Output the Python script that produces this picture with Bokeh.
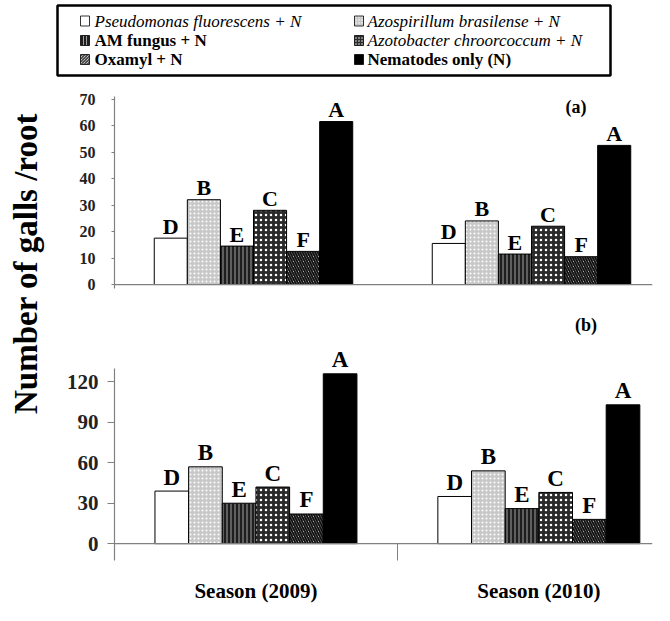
import numpy as np
from bokeh.plotting import figure
from bokeh.models import ColumnDataSource, Range1d, FixedTicker, Span
from bokeh.layouts import column, row
from bokeh.embed import file_html
from bokeh.resources import INLINE
from bokeh.core.properties import value

# ---------------- data ----------------
treatments = ["Pseudomonas fluorescens + N", "Azospirillum brasilense  + N", "AM fungus + N",
              "Azotobacter chroorcoccum + N", "Oxamyl + N", "Nematodes only (N)"]
legend_italic = [True, True, False, True, False, False]
letters = ["D", "B", "E", "C", "F", "A"]
seasons = ["Season (2009)", "Season (2010)"]
galls_a_2009 = [17.5, 32, 14.5, 28, 12.5, 61.5]
galls_a_2010 = [15.5, 24, 11.5, 22, 10.5, 52.5]
galls_b_2009 = [39, 57, 30, 42, 22, 126]
galls_b_2010 = [35, 54, 26, 38, 18, 103]
ticks_a = [0, 10, 20, 30, 40, 50, 60, 70]
ticks_b = [0, 30, 60, 90, 120]
y_title = "Number of galls /root"

# ---------------- styles ----------------
FONT_NAME = "Liberation Serif"
FONT = value(FONT_NAME)
fills = ["white", "#c8c8c8", "#1e1e1e", "#2a2a2a", "white", "black"]
hatches = [" ", "dot", "vertical_line", "dot", "left_diagonal_line", " "]
hcolors = ["black", "white", "#a0a0a0", "white", "#111111", "black"]
hscales = [4, 4, 4, 5, 5, 4]
hweights = [1, 1.5, 1, 2, 2, 1]
AXC = "#808080"
BAR_W = 0.119


def bar_source(v09, v10):
    xs, tops, labs = [], [], []
    fc, hp, hc, hs, hw = [], [], [], [], []
    for s, vals in enumerate([v09, v10]):
        n = len(vals)
        for i, v in enumerate(vals):
            xs.append(s + 0.5 + (i - (n - 1) / 2) * BAR_W)
            tops.append(v)
            labs.append(letters[i])
            fc.append(fills[i]); hp.append(hatches[i]); hc.append(hcolors[i])
            hs.append(hscales[i]); hw.append(hweights[i])
    return ColumnDataSource(dict(x=xs, top=tops, letter=labs, fill=fc, hatch=hp,
                                 hcolor=hc, hscale=hs, hweight=hw))


def style_common(p):
    p.toolbar_location = None
    p.outline_line_color = None
    p.grid.visible = False
    p.background_fill_color = "white"
    p.border_fill_color = "white"


def draw_bars(p, src, letter_size, letter_off):
    p.vbar(x="x", top="top", bottom=0, width=BAR_W, source=src,
           fill_color="fill", hatch_pattern="hatch", hatch_color="hcolor",
           hatch_scale="hscale", hatch_weight="hweight",
           line_color="black", line_width=1)
    p.text(x="x", y="top", text="letter", source=src, text_font=FONT,
           text_font_style="bold", text_font_size=letter_size,
           text_align="center", text_baseline="alphabetic", y_offset=letter_off,
           text_color="black")


# ---------------- legend figure ----------------
leg = figure(width=654, height=87, x_range=Range1d(0, 553), y_range=Range1d(0, 70),
             x_axis_location=None, y_axis_location=None, title=None,
             output_backend="svg", toolbar_location=None,
             min_border_left=57, min_border_right=44, min_border_top=5, min_border_bottom=12)
style_common(leg)
leg.outline_line_color = "black"
leg.outline_line_width = 2.5
col_sw = [27.5, 301.5]
col_tx = [37, 310]
row_y = [54.5, 35, 16]
n_t = len(treatments)
leg_all = dict(
    sx=[col_sw[i % 2] for i in range(n_t)],
    tx=[col_tx[i % 2] for i in range(n_t)],
    y=[row_y[i // 2] for i in range(n_t)],
    label=treatments, fill=fills, hatch=hatches,
    hcolor=hcolors, hscale=[3] * n_t, hweight=[1] * n_t)
lsrc = ColumnDataSource(leg_all)
leg.rect(x="sx", y="y", width=9, height=10, source=lsrc, fill_color="fill",
         hatch_pattern="hatch", hatch_color="hcolor", hatch_scale="hscale",
         hatch_weight="hweight", line_color="black", line_width=0.8)
for want_italic, fstyle in [(True, "italic"), (False, "bold")]:
    idx = [i for i in range(n_t) if legend_italic[i] == want_italic]
    sub = ColumnDataSource(dict(tx=[leg_all["tx"][i] for i in idx],
                                y=[leg_all["y"][i] for i in idx],
                                label=[treatments[i] for i in idx]))
    leg.text(x="tx", y="y", text="label", source=sub, text_font=FONT,
             text_font_style=fstyle, text_font_size="17px", text_baseline="middle",
             text_align="left", text_color="black")

# ---------------- y title figure ----------------
tf = figure(width=48, height=518, x_range=Range1d(0, 48), y_range=Range1d(0, 518),
            x_axis_location=None, y_axis_location=None, title=None,
            output_backend="svg", toolbar_location=None, min_border=0)
style_common(tf)
tf.text(x=[25], y=[518 - 176], text=[y_title], angle=np.pi / 2, text_font=FONT,
        text_font_style="bold", text_font_size="33px", text_align="center",
        text_baseline="middle", text_color="black")

# ---------------- panel (a) ----------------
pa = figure(width=606, height=205, x_range=Range1d(0, 538 / 278),
            y_range=Range1d(-1.5, -1.5 + 201 / 2.65),
            x_axis_location=None, title=None, output_backend="svg",
            toolbar_location=None, min_border_left=66, min_border_right=2,
            min_border_top=0, min_border_bottom=4)
style_common(pa)
pa.yaxis.ticker = FixedTicker(ticks=ticks_a)
pa.yaxis.bounds = (-1.5, 71)
pa.add_layout(Span(location=0, dimension="width", line_color=AXC, line_width=1.3))
draw_bars(pa, bar_source(galls_a_2009, galls_a_2010), "22px", -12)
pa.text(x=[1.66], y=[67], text=["(a)"], text_font=FONT, text_font_style="bold",
        text_font_size="18px", text_align="center", text_baseline="middle")

# ---------------- panel (b) ----------------
pb = figure(width=606, height=313, x_range=Range1d(0, 542 / 285),
            y_range=Range1d(-12.5, -12.5 + 270 / 1.358),
            title=None, output_backend="svg", toolbar_location=None,
            min_border_left=62, min_border_right=2, min_border_top=0, min_border_bottom=43)
style_common(pb)
pb.yaxis.ticker = FixedTicker(ticks=ticks_b)
pb.yaxis.bounds = (-12.5, 129.6)
pb.add_layout(Span(location=0, dimension="width", line_color=AXC, line_width=1.3))
draw_bars(pb, bar_source(galls_b_2009, galls_b_2010), "23px", -14)
pb.text(x=[1.667], y=[162], text=["(b)"], text_font=FONT, text_font_style="bold",
        text_font_size="18px", text_align="center", text_baseline="middle")

season_pos = [i + 0.5 for i in range(len(seasons))]
pb.xaxis.ticker = FixedTicker(ticks=season_pos, minor_ticks=[1.0])
pb.xaxis.major_label_overrides = {pos: s for pos, s in zip(season_pos, seasons)}
pb.xaxis.axis_line_color = None
pb.xaxis.major_tick_line_color = None
pb.xaxis.major_tick_out = 0
pb.xaxis.major_tick_in = 0
pb.xaxis.minor_tick_line_color = AXC
pb.xaxis.minor_tick_in = 17
pb.xaxis.minor_tick_out = 0
pb.xaxis.major_label_standoff = 18
pb.xaxis.major_label_text_font = FONT_NAME
pb.xaxis.major_label_text_font_style = "bold"
pb.xaxis.major_label_text_font_size = "21px"
pb.xaxis.major_label_text_color = "black"

for p, fs, tout, sto in [(pa, "16px", 3, 16), (pb, "21px", 7, 9)]:
    ax = p.yaxis[0]
    ax.axis_line_color = AXC
    ax.axis_line_width = 1.2
    ax.major_tick_line_color = AXC
    ax.major_tick_out = tout
    ax.major_tick_in = 0
    ax.minor_tick_line_color = None
    ax.major_label_standoff = sto
    ax.major_label_text_font = FONT_NAME
    ax.major_label_text_font_style = "bold"
    ax.major_label_text_font_size = fs
    ax.major_label_text_color = "#222222"

layout = column(leg, row(tf, column(pa, pb)))
open("out.html", "w").write(file_html(layout, INLINE))
